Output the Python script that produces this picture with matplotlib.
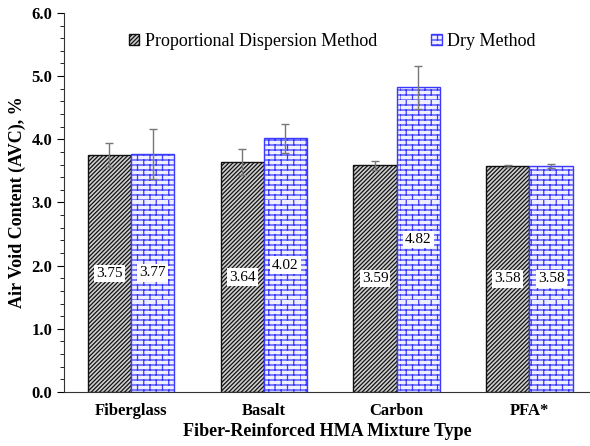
import matplotlib
matplotlib.use("Agg")
import matplotlib.pyplot as plt
import numpy as np
from matplotlib import hatch as mhatch
from matplotlib.path import Path
from matplotlib.ticker import MultipleLocator
import warnings

warnings.filterwarnings("ignore")
plt.rcParams['font.family'] = ['Liberation Serif', 'DejaVu Serif']
plt.rcParams['hatch.linewidth'] = 0.9


class BrickHatch(mhatch.HatchPatternBase):
    """Running-bond brick pattern, selected with the 'b' hatch character."""

    def __init__(self, hatch, density):
        if 'b' in hatch:
            self.rows, self.cols = 20, 8
        else:
            self.rows, self.cols = 0, 0
        self.num_vertices = 2 * self.rows + 2 * self.rows * self.cols

    def set_vertices_and_codes(self, vertices, codes):
        segs = []
        h = 1.0 / self.rows
        w = 1.0 / self.cols
        for r in range(self.rows):
            y0 = r * h
            segs.append(((0.0, y0), (1.0, y0)))
            off = (r % 2) * w / 2
            for c in range(self.cols):
                xv = (c * w + off) % 1.0
                segs.append(((xv, y0), (xv, y0 + h)))
        arr = np.array(segs, dtype=float).reshape(-1, 2)
        vertices[:] = arr
        codes[:] = np.tile([Path.MOVETO, Path.LINETO], len(segs))


mhatch._hatch_types.append(BrickHatch)

categories = ["Fiberglass", "Basalt", "Carbon", "PFA*"]
pd_values = [3.75, 3.64, 3.59, 3.58]
dry_values = [3.77, 4.02, 4.82, 3.58]
pd_err = [0.19, 0.21, 0.07, 0.02]
dry_err = [0.40, 0.23, 0.34, 0.03]

fig = plt.figure(figsize=(5.9, 4.46), dpi=100)
ax = fig.add_axes([0.1085, 0.121, 0.8915, 0.85])

x = np.arange(len(categories))
w = 0.326
err_style = dict(ecolor='#777777', elinewidth=1.0, capsize=3, capthick=1.0)

b1 = ax.bar(x - w / 2, pd_values, w, color='#d0d0d0', edgecolor='#111111',
            hatch='////////', linewidth=1.0, label='Proportional Dispersion Method',
            yerr=pd_err, error_kw=err_style)
b2 = ax.bar(x + w / 2, dry_values, w, color='#eeeeff', edgecolor='#3a3aff',
            hatch='b', linewidth=1.0, label='Dry Method',
            yerr=dry_err, error_kw=err_style)

for bars, vals in ((b1, pd_values), (b2, dry_values)):
    for bar, v in zip(bars, vals):
        ax.text(bar.get_x() + bar.get_width() / 2, v / 2, f"{v:.2f}",
                ha='center', va='center', fontsize=11,
                bbox=dict(facecolor='white', edgecolor='none', pad=1.5))

ax.set_xlim(-0.5045, 3.4556)
ax.set_ylim(0, 6)
ax.yaxis.set_major_locator(MultipleLocator(1.0))
ax.yaxis.set_minor_locator(MultipleLocator(0.2))
ax.set_yticklabels([f"{t:.1f}" for t in ax.get_yticks()], fontweight='bold', fontsize=12)
ax.set_xticks(x)
ax.set_xticklabels(categories, fontweight='bold', fontsize=12)
ax.tick_params(axis='x', length=0, pad=8)
ax.tick_params(axis='y', which='major', direction='out', length=5)
ax.tick_params(axis='y', which='minor', direction='out', length=3)

for s in ('top', 'right'):
    ax.spines[s].set_visible(False)
ax.spines['left'].set_color('#333333')
ax.spines['bottom'].set_color('#333333')

ax.set_ylabel("Air Void Content (AVC), %", fontweight='bold', fontsize=13)
ax.set_xlabel("Fiber-Reinforced HMA Mixture Type", fontweight='bold', fontsize=13, labelpad=3)

ax.legend(loc='upper center', ncol=2, frameon=False, fontsize=13,
          handlelength=0.6, handleheight=0.6, handletextpad=0.3, columnspacing=3.0,
          bbox_to_anchor=(0.51, 0.99))

fig.savefig("out.png", dpi=100)
